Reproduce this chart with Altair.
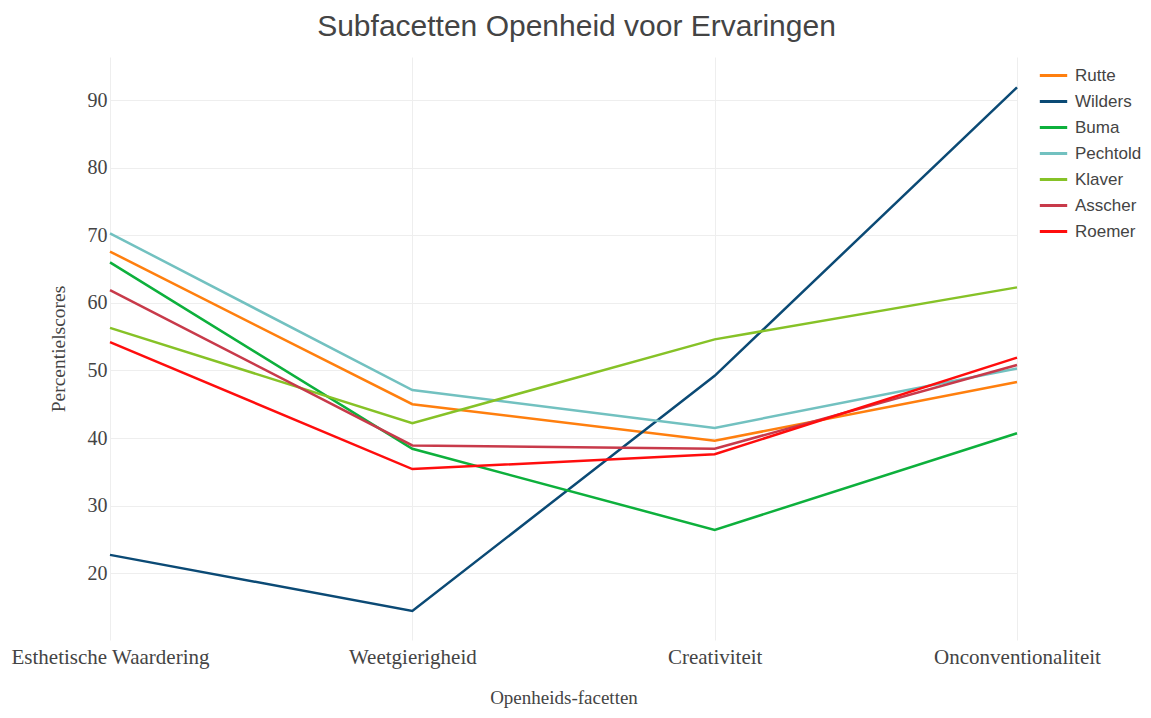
import altair as alt
import pandas as pd

facetten = ["Esthetische Waardering", "Weetgierigheid", "Creativiteit", "Onconventionaliteit"]
politici = ["Rutte", "Wilders", "Buma", "Pechtold", "Klaver", "Asscher", "Roemer"]
kleuren = ["#ff7f0e", "#0b4a75", "#0db03c", "#72c1c0", "#86c227", "#c83a4a", "#ff0d0d"]

rutte = [67.6, 45.0, 39.6, 48.3]
wilders = [22.7, 14.4, 49.2, 91.9]
buma = [66.0, 38.4, 26.4, 40.7]
pechtold = [70.3, 47.1, 41.5, 50.3]
klaver = [56.3, 42.2, 54.6, 62.3]
asscher = [61.9, 38.9, 38.4, 50.8]
roemer = [54.2, 35.4, 37.6, 51.9]

series = [rutte, wilders, buma, pechtold, klaver, asscher, roemer]
rows = []
for naam, vals in zip(politici, series):
    for f, v in zip(facetten, vals):
        rows.append({"Facet": f, "Politicus": naam, "Score": v})
df = pd.DataFrame(rows)

chart = alt.Chart(df).mark_line(strokeWidth=2.5).encode(
    x=alt.X("Facet:N", sort=facetten,
            scale=alt.Scale(type="point", padding=0),
            axis=alt.Axis(title="Openheids-facetten", labelAngle=0, labelFont="Liberation Serif",
                          labelFontSize=21, labelColor="#444", labelPadding=6, labelLimit=400,
                          ticks=False, domain=False, grid=True, gridColor="#eeeeee",
                          titleFont="Liberation Serif", titleFontSize=19,
                          titleFontWeight="normal", titleColor="#444", titlePadding=21)),
    y=alt.Y("Score:Q", scale=alt.Scale(domain=[10.1, 96.4], nice=False, zero=False),
            axis=alt.Axis(title="Percentielscores", values=[20, 30, 40, 50, 60, 70, 80, 90],
                          labelFont="Liberation Serif", labelFontSize=20, labelColor="#444",
                          labelPadding=3, ticks=False, domain=False, gridColor="#eeeeee",
                          titleFont="Liberation Serif", titleFontSize=19.5,
                          titleFontWeight="normal", titleColor="#444", titlePadding=19)),
    color=alt.Color("Politicus:N", sort=politici,
                    scale=alt.Scale(domain=politici, range=kleuren),
                    legend=alt.Legend(title=None, orient="none", legendX=928, legendY=3,
                                      symbolType="stroke", symbolSize=750, symbolStrokeWidth=3,
                                      labelFont="Liberation Sans", labelFontSize=17,
                                      labelColor="#444", rowPadding=2, labelOffset=6,
                                      labelLimit=200, padding=0)),
    detail="Politicus:N",
).properties(
    width=907, height=583,
    padding={"left": 102, "top": 49, "right": 126, "bottom": 70},
    autosize=alt.AutoSizeParams(type="none"),
    title=alt.TitleParams("Subfacetten Openheid voor Ervaringen", font="Liberation Sans",
                          fontSize=30, fontWeight="normal", color="#444", anchor="middle",
                          dx=13, offset=15),
).configure_view(stroke=None)

chart.save("out.html", embed_options={"renderer": "svg", "actions": False})
